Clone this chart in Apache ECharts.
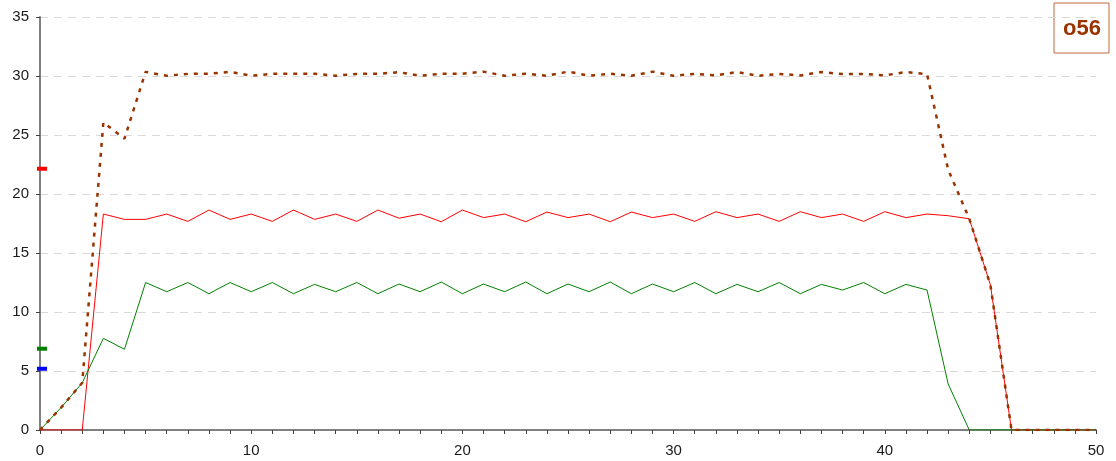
<!DOCTYPE html>
<html>
<head>
<meta charset="utf-8">
<title>o56</title>
<script src="https://cdn.jsdelivr.net/npm/echarts@6/dist/echarts.min.js"></script>
<style>
  html, body { margin: 0; padding: 0; background: #fff; }
  #chart { width: 1116px; height: 461px; }
</style>
</head>
<body>
<div id="chart"></div>
<script>
// x = 0..50
const xValues = [0, 1, 2, 3, 4, 5, 6, 7, 8, 9, 10, 11, 12, 13, 14, 15, 16, 17, 18, 19, 20,
  21, 22, 23, 24, 25, 26, 27, 28, 29, 30, 31, 32, 33, 34, 35, 36, 37, 38, 39, 40,
  41, 42, 43, 44, 45, 46, 47, 48, 49, 50]

// 红线
const redValues = [0, 0, 0, 18.3, 17.85, 17.85, 18.3, 17.68, 18.64, 17.85, 18.3,
  17.68, 18.64, 17.85, 18.3, 17.68, 18.64, 17.95, 18.3, 17.65, 18.64,
  18.0, 18.3, 17.65, 18.47, 18.0, 18.3, 17.65, 18.47, 18.0, 18.3,
  17.68, 18.5, 18.0, 18.3, 17.68, 18.5, 18.0, 18.3, 17.68, 18.5,
  18.0, 18.3, 18.16, 17.9, 12.3, 0, 0, 0, 0, 0]

// 绿线
const greenValues = [0, 1.9, 4.0, 7.77, 6.84, 12.5, 11.72, 12.5, 11.55, 12.5, 11.72,
  12.5, 11.55, 12.34, 11.72, 12.5, 11.55, 12.37, 11.72, 12.54, 11.55,
  12.37, 11.72, 12.54, 11.55, 12.37, 11.72, 12.54, 11.55, 12.37, 11.72,
  12.5, 11.55, 12.34, 11.72, 12.5, 11.55, 12.34, 11.86, 12.5, 11.55,
  12.34, 11.86, 3.9, 0, 0, 0, 0, 0, 0, 0]

// 棕色点线
const totalValues = [0, 1.9, 4.0, 26.07, 24.69, 30.35, 30.02, 30.18, 30.19, 30.35, 30.02,
  30.18, 30.19, 30.19, 30.02, 30.18, 30.19, 30.32, 30.02, 30.19, 30.19,
  30.37, 30.02, 30.19, 30.02, 30.37, 30.02, 30.19, 30.02, 30.37, 30.02,
  30.18, 30.05, 30.34, 30.02, 30.18, 30.05, 30.34, 30.16, 30.18, 30.05,
  30.34, 30.16, 22.06, 17.9, 12.3, 0, 0, 0, 0, 0]

// y轴上的小标记 (红, 绿, 蓝)
const markerValues = [22.14, 6.89, 5.19]
const markerColors = ['#ff0000', '#008000', '#0000ff']

const legendText = 'o56'

const pairs = (ys) => xValues.map((x, i) => [x, ys[i]])

const myChart = echarts.init(document.getElementById('chart'))

const axisFont = {
  color: '#1a1a1a',
  fontSize: 15,
  fontFamily: 'Liberation Sans'
}

const option = {
  animation: false,
  grid: {
    left: 40,
    right: 20,
    top: 17,
    bottom: 31
  },
  xAxis: {
    type: 'value',
    min: 0,
    max: 50,
    interval: 10,
    axisLine: { lineStyle: { color: '#808080', width: 2 } },
    axisTick: { show: true, length: 4, lineStyle: { color: '#404040' } },
    minorTick: { show: true, splitNumber: 10, length: 4, lineStyle: { color: '#404040' } },
    splitLine: { show: false },
    axisLabel: { margin: 13, ...axisFont }
  },
  yAxis: {
    type: 'value',
    min: 0,
    max: 35,
    interval: 5,
    axisLine: { show: true, lineStyle: { color: '#808080', width: 2 } },
    axisTick: { show: true, length: 4, lineStyle: { color: '#404040' } },
    splitLine: { lineStyle: { color: '#d9d9d9', type: [8, 6], width: 1 } },
    axisLabel: { margin: 11, ...axisFont }
  },
  graphic: [
    {
      type: 'rect',
      shape: { x: 1054, y: 3, width: 55, height: 50 },
      style: { fill: '#fff', stroke: '#c4663a', lineWidth: 1 }
    },
    {
      type: 'text',
      x: 1082,
      y: 29,
      style: {
        text: legendText,
        fill: '#993300',
        fontFamily: 'Liberation Sans',
        fontWeight: 'bold',
        fontSize: 22,
        align: 'center',
        verticalAlign: 'middle'
      }
    }
  ],
  series: [
    {
      name: 'red',
      type: 'line',
      data: pairs(redValues),
      symbol: 'none',
      lineStyle: { color: '#ff0000', width: 1 },
      itemStyle: { color: '#ff0000' }
    },
    {
      name: 'green',
      type: 'line',
      data: pairs(greenValues),
      symbol: 'none',
      lineStyle: { color: '#008000', width: 1 },
      itemStyle: { color: '#008000' }
    },
    {
      name: 'total',
      type: 'line',
      data: pairs(totalValues),
      symbol: 'none',
      lineStyle: { color: '#993300', width: 2.5, type: [4, 6] },
      itemStyle: { color: '#993300' }
    },
    {
      name: 'markers',
      type: 'scatter',
      symbol: 'rect',
      symbolSize: [10, 4],
      symbolOffset: [2, 0],
      data: markerValues.map((v, i) => ({
        value: [0, v],
        itemStyle: { color: markerColors[i], opacity: 1 }
      })),
      z: 5
    }
  ]
}

myChart.setOption(option)
</script>
</body>
</html>
